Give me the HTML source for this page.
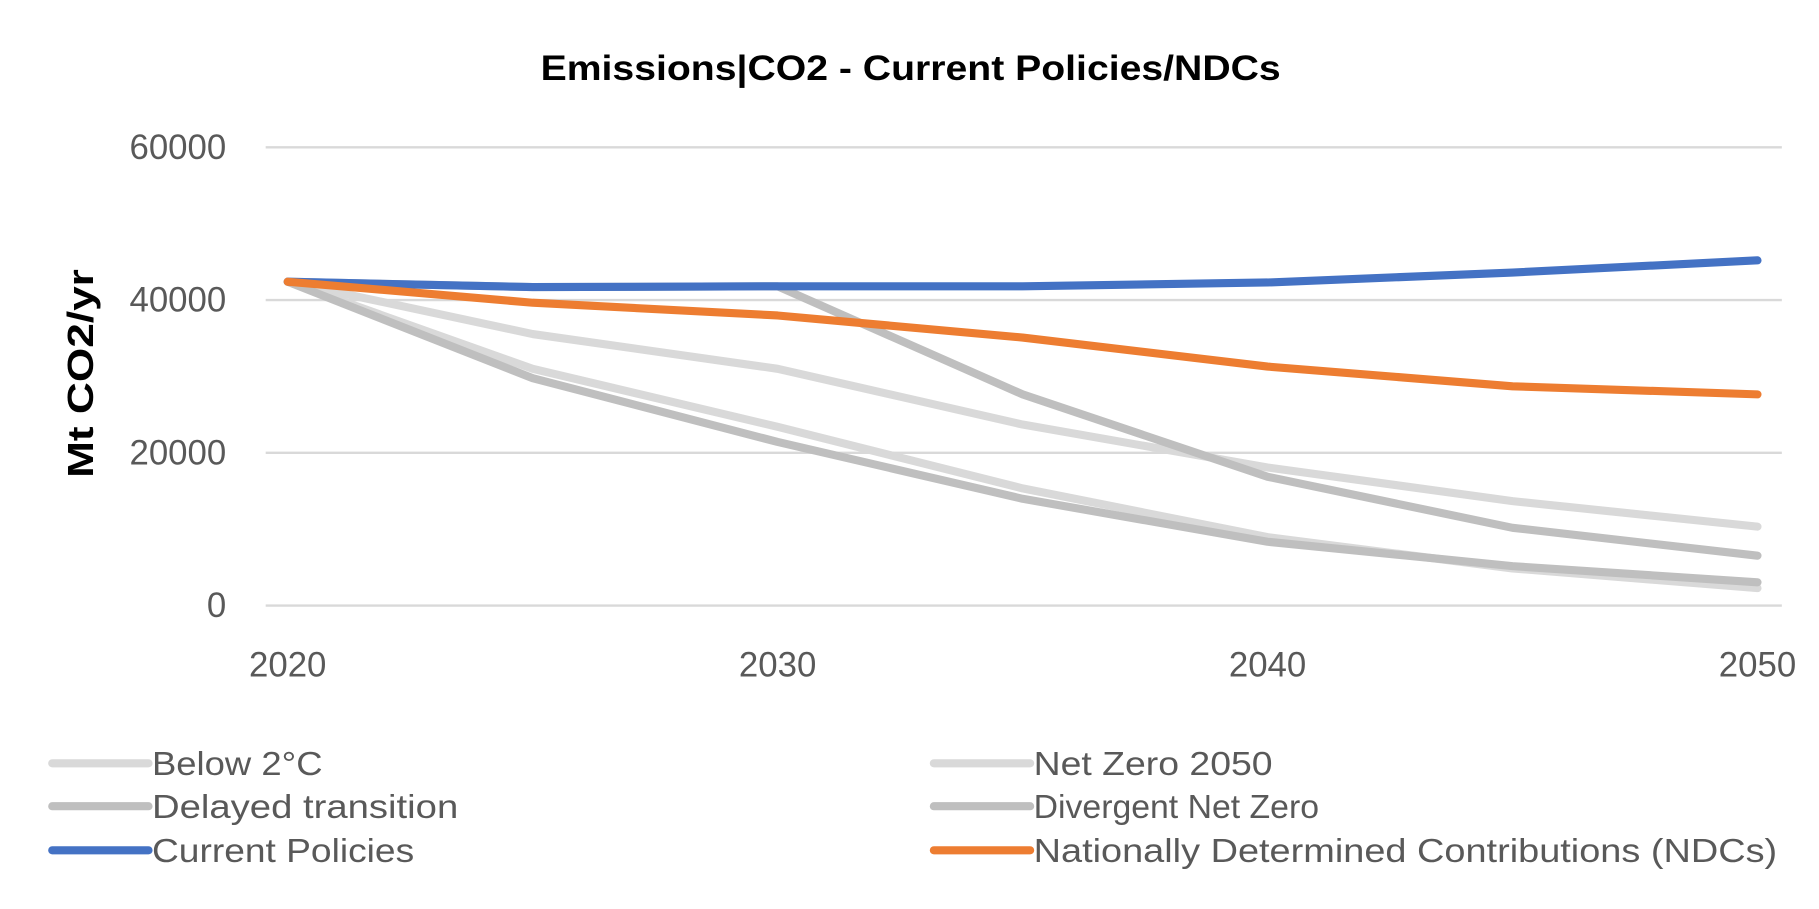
<!DOCTYPE html>
<html><head><meta charset="utf-8"><style>
html,body{margin:0;padding:0;background:#fff;}
svg{display:block;}
text{font-family:"Liberation Sans",sans-serif;}
</style></head><body>
<svg id="chart" width="1819" height="909" viewBox="0 0 1568 783.6" xmlns="http://www.w3.org/2000/svg">
<text x="785" y="69" text-anchor="middle" font-size="30" font-weight="bold" fill="#000" textLength="638" lengthAdjust="spacingAndGlyphs">Emissions|CO2 - Current Policies/NDCs</text>
<text transform="translate(80,322) rotate(-90)" text-anchor="middle" font-size="31" font-weight="bold" fill="#000" textLength="180" lengthAdjust="spacingAndGlyphs">Mt CO2/yr</text>
<g id="grid"></g><g id="yticks"></g><g id="xticks"></g><g id="series"></g><g id="legend"></g>
</svg>
<script>
const years = [2020, 2025, 2030, 2035, 2040, 2045, 2050];
const xTickLabels = [2020, 2030, 2040, 2050];
const yTickValues = [0, 20000, 40000, 60000];
const seriesNames = ["Below 2°C", "Net Zero 2050", "Delayed transition", "Divergent Net Zero", "Current Policies", "Nationally Determined Contributions (NDCs)"];
const below2 = [42400, 35550, 31000, 23700, 18080, 13670, 10330];
const netZero2050 = [42400, 31000, 23400, 15340, 8960, 4860, 2280];
const delayed = [42400, 41700, 41800, 27650, 16860, 10180, 6530];
const divergent = [42400, 29770, 21420, 13980, 8350, 5160, 3040];
const currentPolicies = [42400, 41700, 41800, 41800, 42300, 43600, 45200];
const ndcs = [42400, 39650, 37980, 35090, 31290, 28710, 27650];

const NS = "http://www.w3.org/2000/svg";
const X0 = 248, X1 = 1515, Y0 = 522, Y1 = 127;
function xs(yr){ return X0 + (yr - 2020) / 30 * (X1 - X0); }
function ys(v){ return Y0 - v / 60000 * (Y0 - Y1); }
function mk(tag, attrs, parent){ const e = document.createElementNS(NS, tag); for (const k in attrs) e.setAttribute(k, attrs[k]); parent.appendChild(e); return e; }

const grid = document.getElementById("grid");
const yt = document.getElementById("yticks");
yTickValues.forEach(v => {
  const l = mk("line", {x1:229, x2:1536, y1:ys(v), y2:ys(v), stroke:"#d9d9d9", "stroke-width":2}, grid);
  
  
  const t = mk("text", {x:195, y:ys(v)+10, "text-anchor":"end", "font-size":30, fill:"#595959"}, yt);
  t.textContent = v;
  
  
});
const xt = document.getElementById("xticks");
xTickLabels.forEach(yr => {
  const t = mk("text", {x:xs(yr), y:583, "text-anchor":"middle", "font-size":30, fill:"#595959"}, xt);
  t.textContent = yr;
  
  
});

const allSeries = [below2, netZero2050, delayed, divergent, currentPolicies, ndcs];
const colors = ["#d9d9d9", "#d9d9d9", "#bfbfbf", "#bfbfbf", "#4472c4", "#ed7d31"];
const slugs = ["below-2c", "net-zero-2050", "delayed-transition", "divergent-net-zero", "current-policies", "ndcs"];
const sg = document.getElementById("series");
allSeries.forEach((vals, i) => {
  const pts = vals.map((v, j) => xs(years[j]) + "," + ys(v)).join(" ");
  const p = mk("polyline", {points:pts, fill:"none", stroke:colors[i], "stroke-width":7, "stroke-linecap":"round", "stroke-linejoin":"round"}, sg);
  
  
});

const lg = document.getElementById("legend");
const legendOrder = [0, 1, 2, 3, 4, 5];
const widths = [147, 206, 264, 246, 226, 641];
const rowY = [658, 658, 695, 695, 733, 733];
const colX = [45, 805, 45, 805, 45, 805];
legendOrder.forEach((i, k) => {
  const g = mk("g", {}, lg);
  
  
  mk("line", {x1:colX[k], x2:colX[k]+83, y1:rowY[k], y2:rowY[k], stroke:colors[i], "stroke-width":7, "stroke-linecap":"round"}, g);
  const t = mk("text", {x:colX[k]+86, y:rowY[k]+10, "font-size":29, fill:"#595959", textLength:widths[i], lengthAdjust:"spacingAndGlyphs"}, g);
  t.textContent = seriesNames[i];
});
</script>
</body></html>
